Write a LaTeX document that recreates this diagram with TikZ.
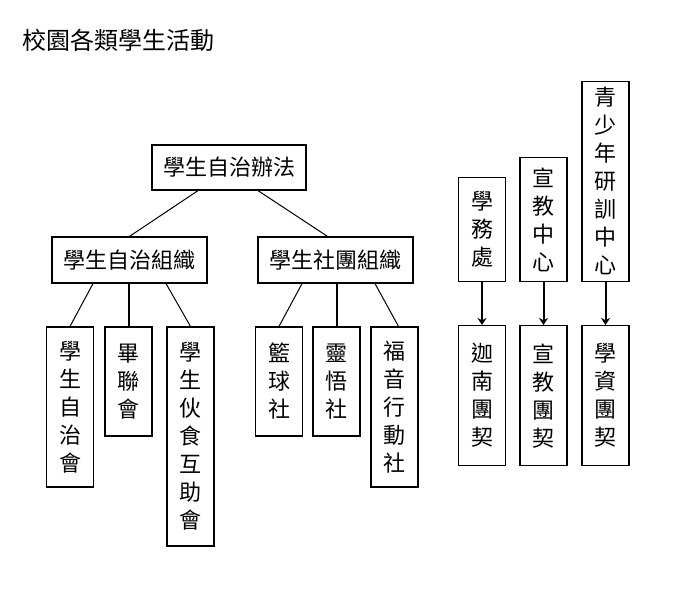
\documentclass[tikz,border=0pt]{standalone}
\usepackage{fontspec}
\setmainfont{Noto Sans CJK TC}
\usepackage{tikz}
\usetikzlibrary{shapes,positioning,calc}
\usetikzlibrary{arrows.meta}
\tikzstyle{riquadro} = [rectangle, minimum width=155pt, minimum height=46pt, text centered, draw=black, line width=1.2pt, font=\fontsize{22}{28}\selectfont]
\tikzstyle{colonna} = [rectangle, minimum width=47pt, inner xsep=2pt, inner ysep=4pt, align=center, draw=black, line width=1.2pt, font=\fontsize{22}{28}\selectfont]
\tikzstyle{ramo} = [line width=1pt]
\tikzstyle{ramo dritto} = [line width=2pt]
\tikzstyle{freccia} = [line width=2pt,-{Stealth[length=7pt,width=9pt]}]

\begin{document}
\begin{tikzpicture}[x=1pt,y=-1pt]
				\useasboundingbox (0,0) rectangle (685,600);
				\node[anchor=west, font=\fontsize{24}{28}\selectfont] (titolo) at (19,40) {校園各類學生活動};
				% albero a sinistra
				\node (ban) at (229,167.5) [riquadro, minimum width=154pt, minimum height=45pt] {學生自治辦法};
				\node (zzz) at (129.5,260) [riquadro] {學生自治組織};
				\node (stz) at (335.5,260) [riquadro] {學生社團組織};
				\draw[ramo] ($(ban.south)+(-31,0)$) -- (zzz.north);
				\draw[ramo] ($(ban.south)+(29,0)$) -- ($(stz.north)+(-8,0)$);
				\node (zzh) at (70,407) [colonna, minimum height=160pt] {學\\生\\自\\治\\會};
				\node (bil) at (128.5,381.5) [colonna, minimum height=109pt] {畢\\聯\\會};
				\node (hsh) at (190.5,436.5) [colonna, minimum height=219pt] {學\\生\\伙\\食\\互\\助\\會};
				\draw[ramo] ($(zzz.south)+(-36.5,0)$) -- (zzh.north);
				\draw[ramo dritto] (bil.north |- zzz.south) -- (bil.north);
				\draw[ramo] ($(zzz.south)+(36.5,0)$) -- (hsh.north);
				\node (lqs) at (279,381.5) [colonna, minimum height=109pt] {籃\\球\\社};
				\node (lws) at (336.5,381.5) [colonna, minimum height=109pt] {靈\\悟\\社};
				\node (fyx) at (394.5,407) [colonna, minimum height=160pt] {福\\音\\行\\動\\社};
				\draw[ramo] ($(stz.south)+(-33.5,0)$) -- (lqs.north);
				\draw[ramo dritto] (lws.north |- stz.south) -- (lws.north);
				\draw[ramo] ($(stz.south)+(39.5,0)$) -- ($(fyx.north)+(4,0)$);
				% uffici e gruppi a destra
				\node (xwc) at (482,282) [colonna, anchor=south, minimum height=104pt] {學\\務\\處};
				\node (xjz) at (543.5,282) [colonna, anchor=south, minimum height=124pt] {宣\\教\\中\\心};
				\node (qsn) at (605.5,282) [colonna, anchor=south, minimum height=200pt] {青\\少\\年\\研\\訓\\中\\心};
				\node (jnt) at (482,325) [colonna, anchor=north, minimum height=140pt] {迦\\南\\團\\契};
				\node (xjt) at (543.5,325) [colonna, anchor=north, minimum height=140pt] {宣\\教\\團\\契};
				\node (xzt) at (605.5,325) [colonna, anchor=north, minimum height=140pt] {學\\資\\團\\契};
				\draw[freccia] (xwc) -- (jnt);
				\draw[freccia] (xjz) -- (xjt);
				\draw[freccia] (qsn) -- (xzt);
\end{tikzpicture}
\end{document}
